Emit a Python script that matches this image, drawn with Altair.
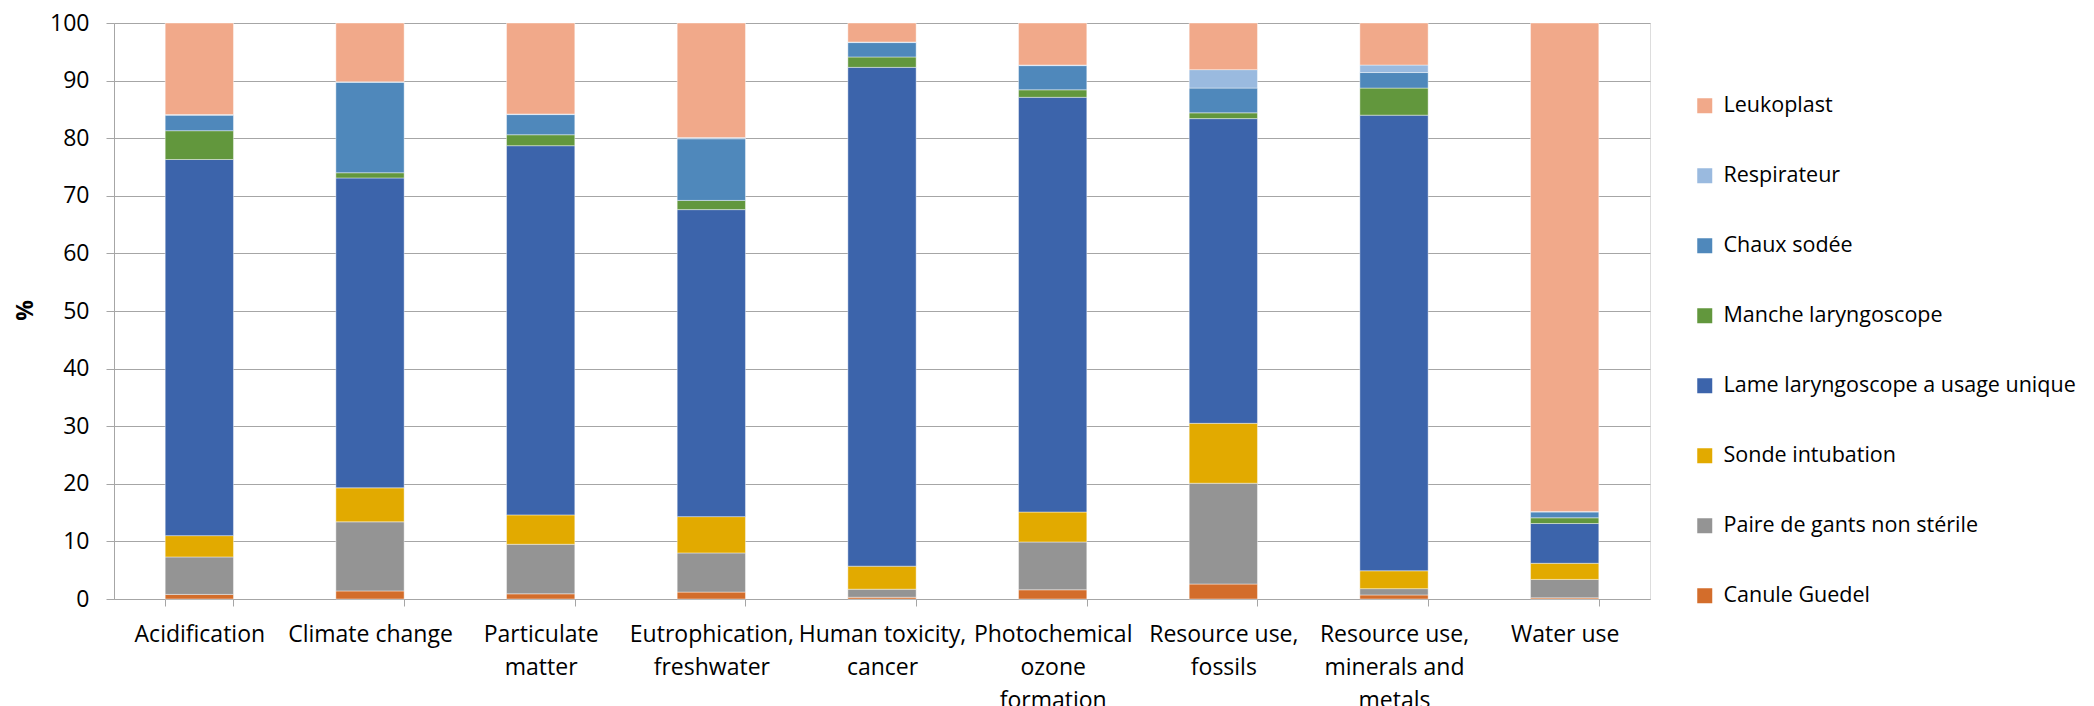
import altair as alt
import pandas as pd

# Impact categories (line breaks give the wrapped axis labels)
categories = [
    "Acidification",
    "Climate change",
    "Particulate\nmatter",
    "Eutrophication,\nfreshwater",
    "Human toxicity,\ncancer",
    "Photochemical\nozone\nformation",
    "Resource use,\nfossils",
    "Resource use,\nminerals and\nmetals",
    "Water use",
]

# Contributions (%) of each item, listed from the bottom of the stack upward
canule_guedel = [0.8, 1.4, 0.9, 1.2, 0.3, 1.6, 2.6, 0.7, 0.2]
paire_gants = [6.5, 12.0, 8.6, 6.8, 1.4, 8.3, 17.5, 1.1, 3.2]
sonde_intubation = [3.7, 5.9, 5.1, 6.3, 4.0, 5.2, 10.4, 3.1, 2.8]
lame_laryngoscope = [65.3, 53.8, 64.1, 53.3, 86.6, 72.0, 52.9, 79.1, 6.9]
manche_laryngoscope = [5.0, 0.9, 1.9, 1.6, 1.8, 1.3, 1.0, 4.7, 1.0]
chaux_sodee = [2.7, 15.7, 3.5, 10.7, 2.5, 4.2, 4.3, 2.7, 1.0]
respirateur = [0.1, 0.1, 0.1, 0.2, 0.1, 0.1, 3.2, 1.3, 0.1]
leukoplast = [15.9, 10.2, 15.8, 19.9, 3.3, 7.3, 8.1, 7.3, 84.8]

series_names = [
    "Canule Guedel",
    "Paire de gants non stérile",
    "Sonde intubation",
    "Lame laryngoscope a usage unique",
    "Manche laryngoscope",
    "Chaux sodée",
    "Respirateur",
    "Leukoplast",
]
series_values = [
    canule_guedel, paire_gants, sonde_intubation, lame_laryngoscope,
    manche_laryngoscope, chaux_sodee, respirateur, leukoplast,
]
series_colors = [
    "#D36D2B", "#949494", "#E2AA00", "#3C64AB",
    "#62973D", "#4F88BB", "#9ABADF", "#F1A98A",
]

rows = []
for idx, (name, vals) in enumerate(zip(series_names, series_values)):
    for cat, v in zip(categories, vals):
        rows.append({"category": cat, "item": name, "value": v, "stack": idx})
df = pd.DataFrame(rows)

FONT = "Open Sans"
FS = 23
LEGEND_FS = 21.5
GRID = "#A6A6A6"

legend_order = list(reversed(series_names))
legend_colors = list(reversed(series_colors))

chart = (
    alt.Chart(df)
    .mark_bar(stroke="white", strokeWidth=0.6, strokeOpacity=0.7)
    .encode(
        x=alt.X(
            "category:N",
            sort=categories,
            title=None,
            scale=alt.Scale(paddingInner=0.6, paddingOuter=0.3),
            axis=alt.Axis(
                labelAngle=0,
                labelExpr="split(datum.label, '\\n')",
                labelFont=FONT,
                labelFontSize=FS,
                labelColor="#000000",
                labelLineHeight=33,
                labelPadding=17,
                labelBaseline="top",
                tickBand="extent",
                tickSize=7,
                tickColor=GRID,
                domainColor=GRID,
                grid=False,
            ),
        ),
        y=alt.Y(
            "value:Q",
            stack="zero",
            scale=alt.Scale(domain=[0, 100], nice=False),
            axis=alt.Axis(
                values=list(range(0, 101, 10)),
                title="%",
                titleFont=FONT,
                titleFontSize=FS,
                titleFontWeight="bold",
                titleAngle=270,
                titleX=-89,
                titleY=287,
                titleAlign="center",
                titleBaseline="middle",
                labelFont=FONT,
                labelFontSize=FS,
                labelColor="#000000",
                labelPadding=17,
                tickSize=8,
                tickColor=GRID,
                domainColor=GRID,
                gridColor=GRID,
                gridWidth=1,
            ),
        ),
        color=alt.Color(
            "item:N",
            scale=alt.Scale(domain=legend_order, range=legend_colors),
            legend=alt.Legend(
                title=None,
                orient="none",
                legendX=1580,
                legendY=72,
                labelFont=FONT,
                labelFontSize=LEGEND_FS,
                labelColor="#000000",
                symbolType="square",
                symbolSize=225,
                symbolStrokeWidth=0,
                labelOffset=8,
                rowPadding=47,
                padding=0,
                labelLimit=600,
            ),
        ),
        order=alt.Order("stack:Q", sort="ascending"),
    )
    .properties(
        width=1536,
        height=576,
        autosize=alt.AutoSizeParams(type="none"),
        padding={"left": 114, "top": 23, "right": 444, "bottom": 107},
    )
    .configure_view(stroke=None)
    .configure(background="white")
)

chart.save("out.html", embed_options={"renderer": "svg", "actions": False})
